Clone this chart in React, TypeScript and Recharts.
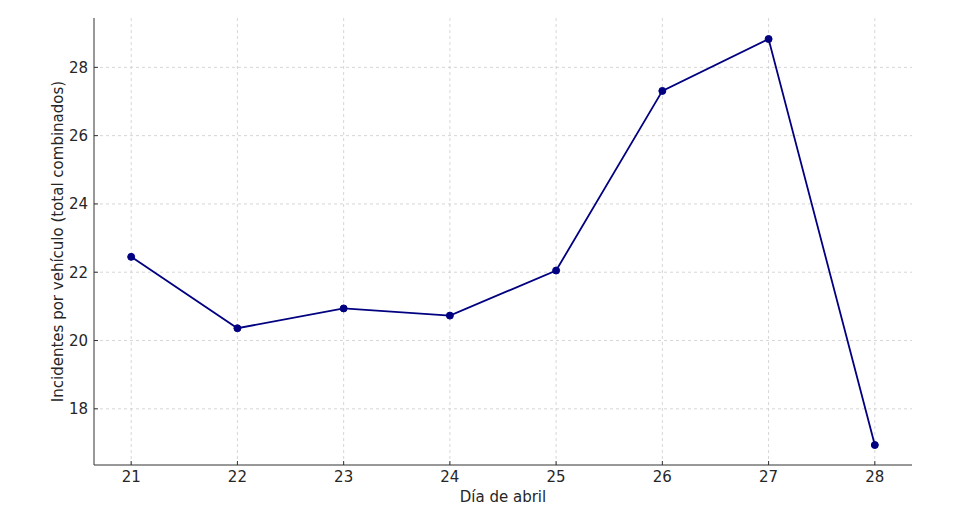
import React from 'react';
import { LineChart, Line, XAxis, YAxis, CartesianGrid } from 'recharts';

const days = [21, 22, 23, 24, 25, 26, 27, 28];
const incidents = [22.45, 20.36, 20.94, 20.73, 22.05, 27.31, 28.83, 16.94];
const xTicks = [21, 22, 23, 24, 25, 26, 27, 28];
const yTicks = [18, 20, 22, 24, 26, 28];

const data = days.map((d, i) => ({ day: d, value: incidents[i] }));

const font = 'DejaVu Sans, sans-serif';
const axisColor = '#333333';

export default function App() {
  return (
    <LineChart
      width={945}
      height={517}
      data={data}
      margin={{ top: 10, right: 41, bottom: 20, left: 0 }}
      style={{ fontFamily: font }}
    >
      <CartesianGrid stroke="#cccccc" strokeDasharray="3 3" strokeWidth={0.8} syncWithTicks={true} />
      <XAxis
        dataKey="day"
        type="number"
        domain={[20.65, 28.35]}
        ticks={xTicks}
        interval={0}
        height={40}
        stroke={axisColor}
        strokeWidth={1}
        tickSize={-4}
        tickMargin={10}
        tick={{ fill: '#262626', fontSize: 15, fontFamily: font }}
        allowDataOverflow
        label={{ value: 'Día de abril', position: 'insideBottom', offset: 3, fill: '#262626', fontSize: 15, fontFamily: font }}
      />
      <YAxis
        type="number"
        domain={[16.355, 29.445]}
        ticks={yTicks}
        interval={0}
        width={86}
        stroke={axisColor}
        strokeWidth={1}
        tickSize={-4}
        tickMargin={10}
        tick={{ fill: '#262626', fontSize: 15, fontFamily: font }}
        allowDataOverflow
        label={{
          value: 'Incidentes por vehículo (total combinados)',
          angle: -90,
          position: 'insideLeft',
          offset: 50,
          style: { textAnchor: 'middle' },
          fill: '#262626',
          fontSize: 15,
          fontFamily: font,
        }}
      />
      <Line
        type="linear"
        dataKey="value"
        stroke="#000080"
        strokeWidth={1.8}
        dot={{ r: 3.5, fill: '#000080', stroke: '#000080', strokeWidth: 1 }}
        activeDot={false}
        isAnimationActive={false}
      />
    </LineChart>
  );
}
